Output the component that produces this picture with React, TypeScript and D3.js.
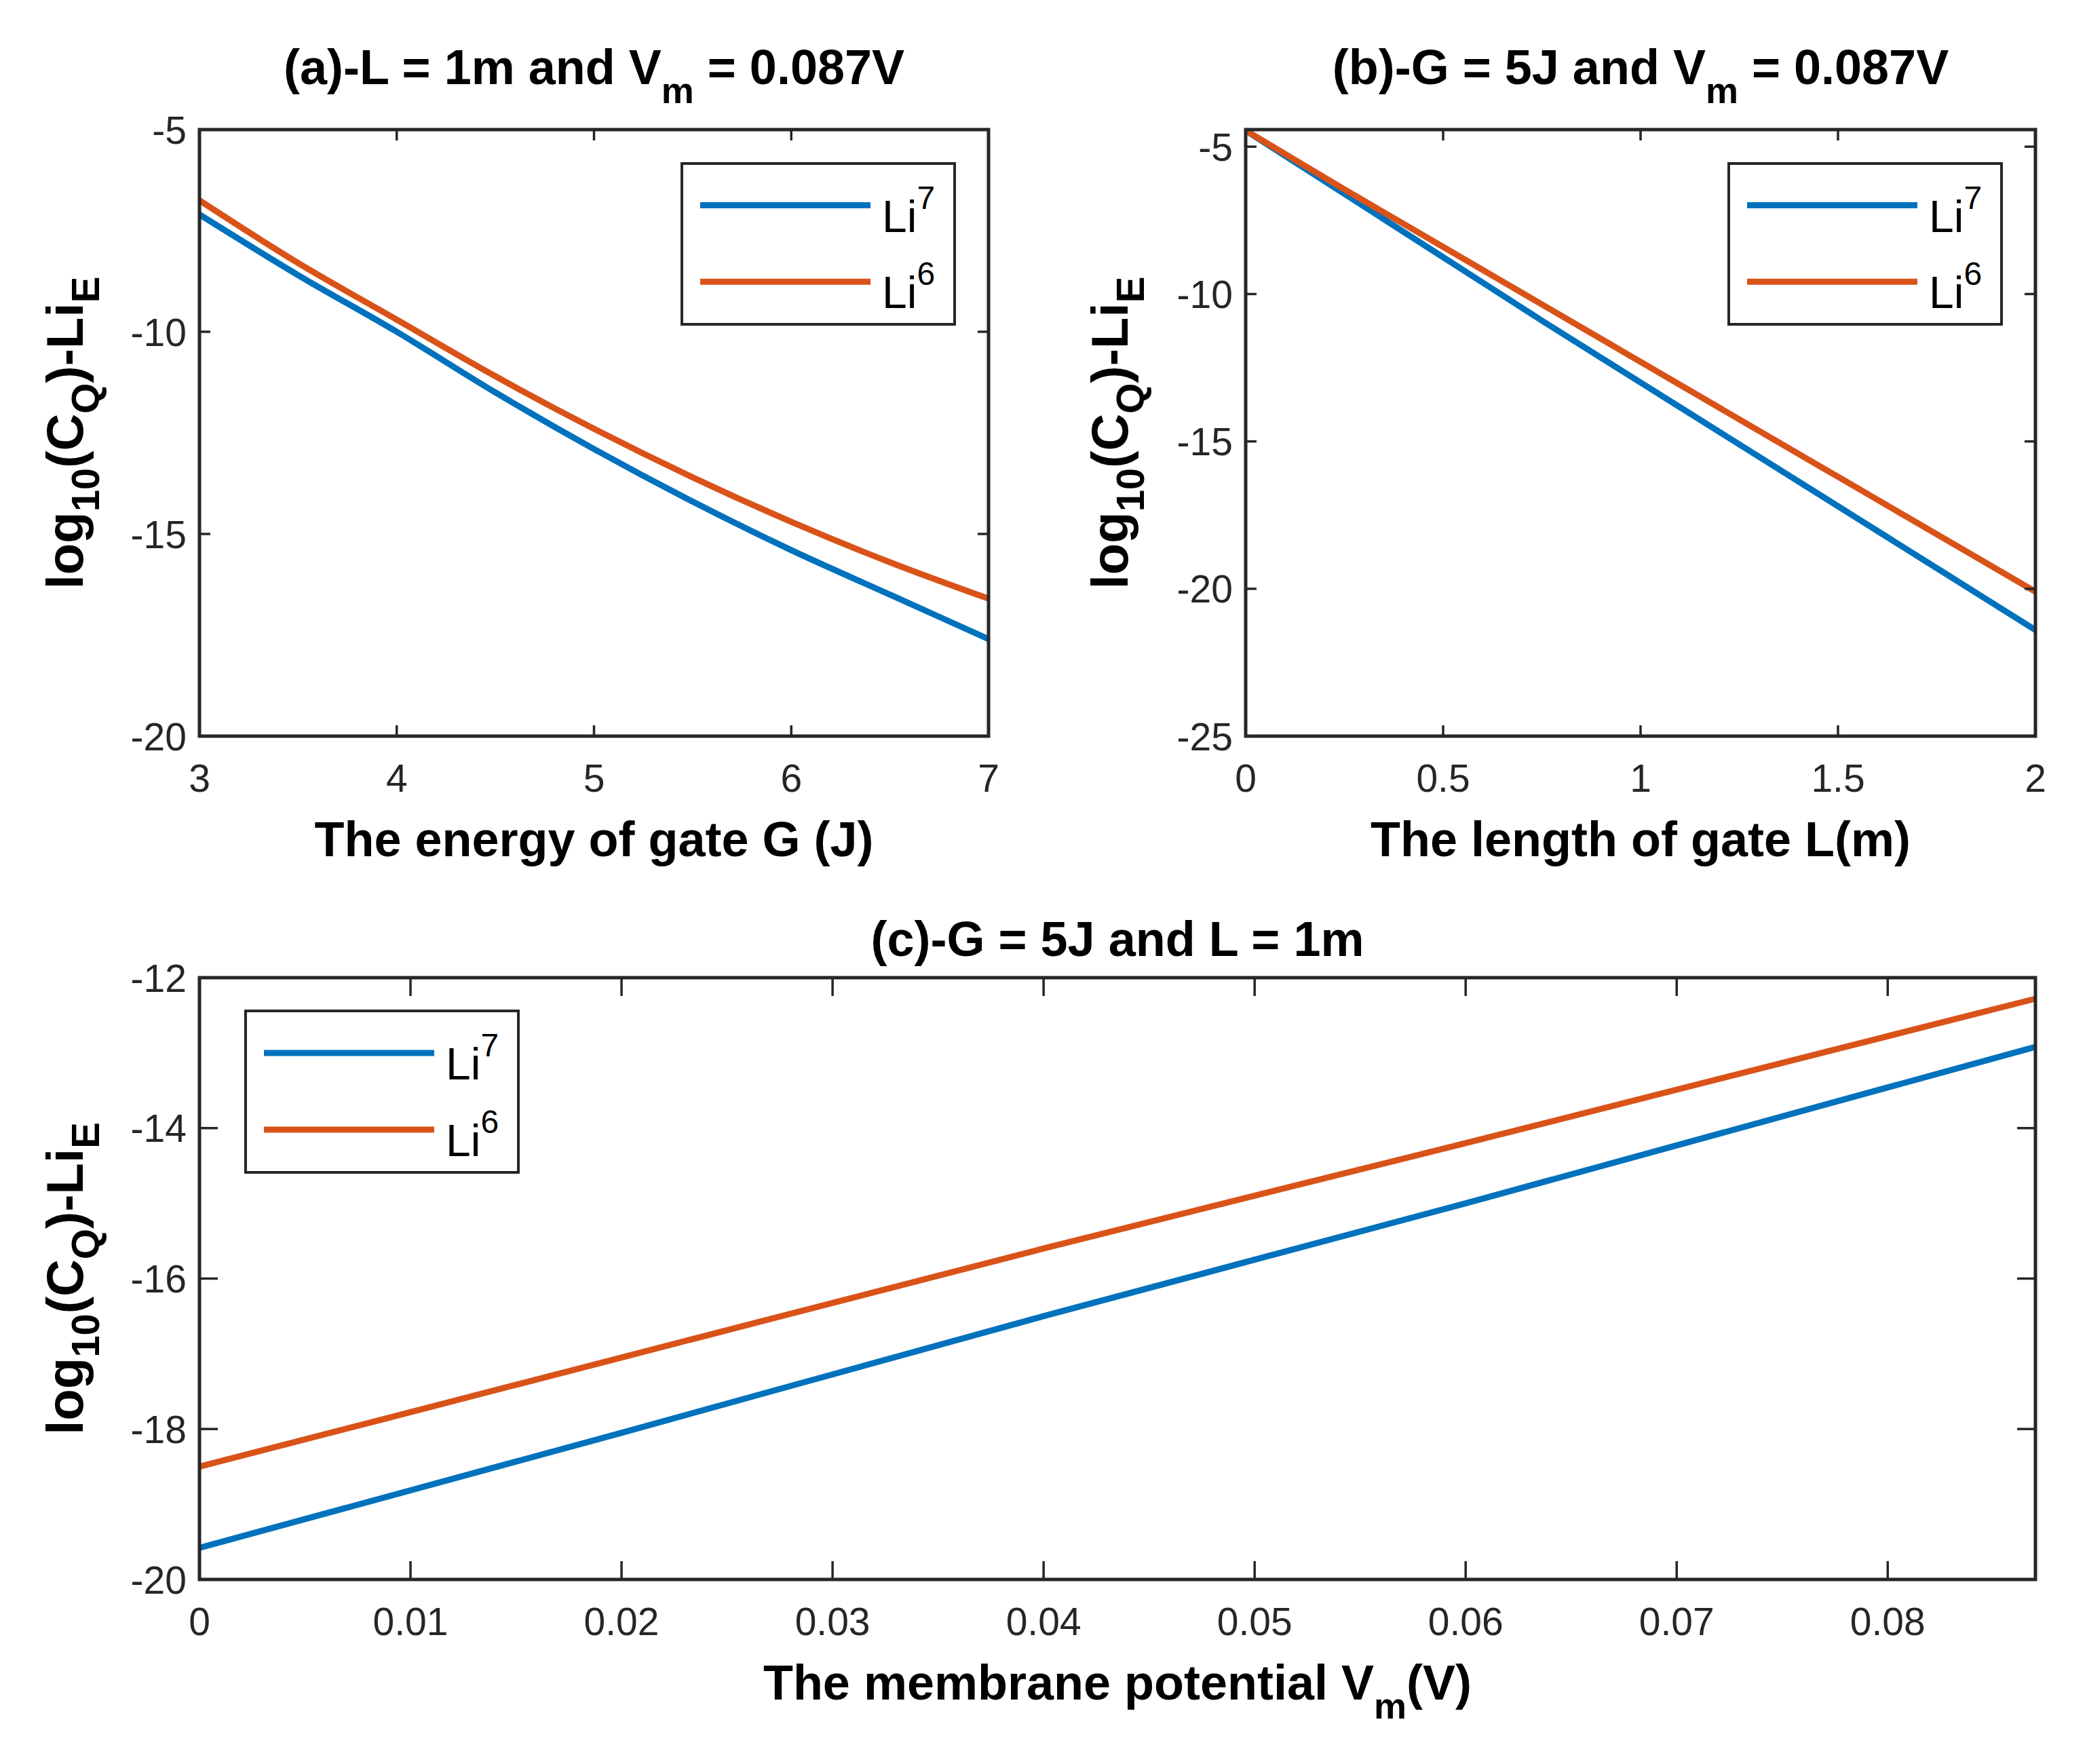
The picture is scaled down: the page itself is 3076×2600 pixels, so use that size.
import React from "react";
import * as d3 from "d3";

// ---------- data ----------
const G_VALUES = [3, 3.5, 4, 4.5, 5, 5.5, 6, 6.5, 7];
const A_LI7 = [-7.1, -8.6, -10.0, -11.5, -12.9, -14.2, -15.4, -16.5, -17.6];
const A_LI6 = [-6.75, -8.3, -9.7, -11.1, -12.4, -13.6, -14.7, -15.7, -16.6];

const L_VALUES = [0, 0.25, 0.5, 0.75, 1, 1.25, 1.5, 1.75, 2];
const B_LI7 = [-4.45, -6.6, -8.75, -10.9, -13.0, -15.1, -17.2, -19.3, -21.4];
const B_LI6 = [-4.45, -6.45, -8.4, -10.35, -12.3, -14.25, -16.2, -18.15, -20.1];

const V_VALUES = [0, 0.02, 0.04, 0.06, 0.087];
const C_LI7 = [-19.58, -18.05, -16.5, -15.0, -12.92];
const C_LI6 = [-18.5, -17.05, -15.6, -14.2, -12.28];

const A_XTICKS = [3, 4, 5, 6, 7];
const A_YTICKS = [-20, -15, -10, -5];
const B_XTICKS = [0, 0.5, 1, 1.5, 2];
const B_YTICKS = [-25, -20, -15, -10, -5];
const C_XTICKS = [0, 0.01, 0.02, 0.03, 0.04, 0.05, 0.06, 0.07, 0.08];
const C_YTICKS = [-20, -18, -16, -14, -12];

const SERIES_NAMES = ["7", "6"];
const COLORS = ["#0072BD", "#D95319"];

const FONT = "'Liberation Sans', Arial, Helvetica, sans-serif";
const AX = "#262626";

type Part = { t: string; sub?: boolean };

function Rich({ parts, subSize, shift }: { parts: Part[]; subSize: number; shift: number }) {
  const out: React.ReactNode[] = [];
  let down = false;
  parts.forEach((p, i) => {
    if (p.sub) {
      out.push(
        <tspan key={i} fontSize={subSize} dy={down ? 0 : shift}>
          {p.t}
        </tspan>
      );
      down = true;
    } else {
      out.push(
        <tspan key={i} dy={down ? -shift : 0}>
          {p.t}
        </tspan>
      );
      down = false;
    }
  });
  return <>{out}</>;
}

const YLABEL: Part[] = [
  { t: "log" },
  { t: "10", sub: true },
  { t: "(C" },
  { t: "Q", sub: true },
  { t: ")-Li" },
  { t: "E", sub: true },
];

interface PanelProps {
  id: string;
  left: number;
  top: number;
  width: number;
  height: number;
  xDomain: [number, number];
  yDomain: [number, number];
  xTicks: number[];
  yTicks: number[];
  xs: number[];
  ys: number[][];
  title: Part[];
  titleY: number;
  xlabel: Part[];
  legend: { x: number; y: number; w: number; h: number };
  tickLen: number;
  ylabelX: number;
}

function Panel(p: PanelProps) {
  const x = d3.scaleLinear().domain(p.xDomain).range([p.left, p.left + p.width]);
  const y = d3.scaleLinear().domain(p.yDomain).range([p.top + p.height, p.top]);
  const line = d3
    .line<[number, number]>()
    .x((d) => x(d[0]))
    .y((d) => y(d[1]))
    .curve(d3.curveMonotoneX);
  const right = p.left + p.width;
  const bottom = p.top + p.height;
  const fmt = (v: number) => String(+v.toFixed(3));
  const cx = p.left + p.width / 2;
  const cy = p.top + p.height / 2;
  const lg = p.legend;
  const TICKF = 57;
  return (
    <g>
      <defs>
        <clipPath id={`clip-${p.id}`}>
          <rect x={p.left} y={p.top} width={p.width} height={p.height} />
        </clipPath>
      </defs>
      <rect x={p.left} y={p.top} width={p.width} height={p.height} fill="#fff" />
      <g clipPath={`url(#clip-${p.id})`}>
        {p.ys.map((s, i) => (
          <path
            key={i}
            d={line(p.xs.map((xv, j) => [xv, s[j]] as [number, number])) || ""}
            fill="none"
            stroke={COLORS[i]}
            strokeWidth={9}
            strokeLinejoin="round"
          />
        ))}
      </g>
      {p.xTicks.map((t) => (
        <g key={`xt${t}`}>
          <line x1={x(t)} x2={x(t)} y1={bottom} y2={bottom - p.tickLen} stroke={AX} strokeWidth={3.5} />
          <line x1={x(t)} x2={x(t)} y1={p.top} y2={p.top + p.tickLen} stroke={AX} strokeWidth={3.5} />
          <text
            x={x(t)}
            y={bottom + 82}
            textAnchor="middle"
            fontFamily={FONT}
            fontSize={TICKF}
            fill={AX}
          >
            {fmt(t)}
          </text>
        </g>
      ))}
      {p.yTicks.map((t) => (
        <g key={`yt${t}`}>
          <line x1={p.left} x2={p.left + p.tickLen} y1={y(t)} y2={y(t)} stroke={AX} strokeWidth={3.5} />
          <line x1={right} x2={right - p.tickLen} y1={y(t)} y2={y(t)} stroke={AX} strokeWidth={3.5} />
          <text
            x={p.left - 19}
            y={y(t) + TICKF * 0.36}
            textAnchor="end"
            fontFamily={FONT}
            fontSize={TICKF}
            fill={AX}
          >
            {fmt(t)}
          </text>
        </g>
      ))}
      <rect x={p.left} y={p.top} width={p.width} height={p.height} fill="none" stroke={AX} strokeWidth={5} />
      <text
        x={cx}
        y={p.top - p.titleY}
        textAnchor="middle"
        fontFamily={FONT}
        fontWeight="bold"
        fontSize={72}
        fill="#000"
      >
        <Rich parts={p.title} subSize={54} shift={28} />
      </text>
      <text
        x={cx}
        y={bottom + 177}
        textAnchor="middle"
        fontFamily={FONT}
        fontWeight="bold"
        fontSize={72}
        fill="#000"
      >
        <Rich parts={p.xlabel} subSize={54} shift={28} />
      </text>
      <text
        transform={`translate(${p.ylabelX},${cy}) rotate(-90)`}
        textAnchor="middle"
        fontFamily={FONT}
        fontWeight="bold"
        fontSize={76}
        fill="#000"
      >
        <Rich parts={YLABEL} subSize={58} shift={24} />
      </text>
      <rect x={lg.x} y={lg.y} width={lg.w} height={lg.h} fill="#fff" stroke={AX} strokeWidth={4} />
      {SERIES_NAMES.map((n, i) => {
        const ly = lg.y + lg.h * (0.26 + 0.475 * i);
        return (
          <g key={n}>
            <line x1={lg.x + 27} x2={lg.x + 278} y1={ly} y2={ly} stroke={COLORS[i]} strokeWidth={9} />
            <text x={lg.x + 295} y={ly + 39} fontFamily={FONT} fontSize={66} fill="#000">
              Li
              <tspan fontSize={48} dy={-34}>
                {n}
              </tspan>
            </text>
          </g>
        );
      })}
    </g>
  );
}

export default function App() {
  return (
    <svg
      width={3076}
      height={2600}
      style={{ position: "absolute", left: 0, top: 0, background: "#fff" }}
    >
      <rect x={0} y={0} width={3076} height={2600} fill="#fff" />
      <Panel
        id="a"
        left={294}
        top={191}
        width={1163}
        height={894}
        xDomain={[3, 7]}
        yDomain={[-20, -5]}
        xTicks={A_XTICKS}
        yTicks={A_YTICKS}
        xs={G_VALUES}
        ys={[A_LI7, A_LI6]}
        title={[{ t: "(a)-L = 1m and V" }, { t: "m", sub: true }, { t: " = 0.087V" }]}
        titleY={67}
        xlabel={[{ t: "The energy of gate G (J)" }]}
        legend={{ x: 1005, y: 241, w: 402, h: 237 }}
        tickLen={16}
        ylabelX={122}
      />
      <Panel
        id="b"
        left={1836}
        top={191}
        width={1164}
        height={894}
        xDomain={[0, 2]}
        yDomain={[-25, -4.42]}
        xTicks={B_XTICKS}
        yTicks={B_YTICKS}
        xs={L_VALUES}
        ys={[B_LI7, B_LI6]}
        title={[{ t: "(b)-G = 5J and V" }, { t: "m", sub: true }, { t: " = 0.087V" }]}
        titleY={67}
        xlabel={[{ t: "The length of gate L(m)" }]}
        legend={{ x: 2548, y: 241, w: 402, h: 237 }}
        tickLen={16}
        ylabelX={1662}
      />
      <Panel
        id="c"
        left={294}
        top={1441}
        width={2706}
        height={887}
        xDomain={[0, 0.087]}
        yDomain={[-20, -12]}
        xTicks={C_XTICKS}
        yTicks={C_YTICKS}
        xs={V_VALUES}
        ys={[C_LI7, C_LI6]}
        title={[{ t: "(c)-G = 5J and L = 1m" }]}
        titleY={32}
        xlabel={[{ t: "The membrane potential V" }, { t: "m", sub: true }, { t: "(V)" }]}
        legend={{ x: 362, y: 1490, w: 402, h: 238 }}
        tickLen={27}
        ylabelX={122}
      />
    </svg>
  );
}
